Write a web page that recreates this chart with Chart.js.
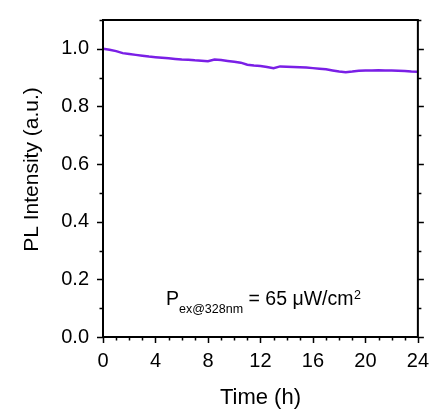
<!DOCTYPE html>
<html><head><meta charset="utf-8">
<script src="https://cdn.jsdelivr.net/npm/chart.js@4"></script>
<style>html,body{margin:0;padding:0;background:#fff}#wrap{width:435px;height:413px}</style>
</head><body><div id="wrap"><canvas id="c" width="435" height="413"></canvas></div>
<script>
const timeH = [0,0.5,1,1.5,2,2.5,3,3.5,4,4.5,5,5.5,6,6.5,7,7.5,8,8.5,9,9.5,10,10.5,11,11.5,12,12.5,13,13.5,14,14.5,15,15.5,16,16.5,17,17.5,18,18.5,19,19.5,20,20.5,21,21.5,22,22.5,23,23.5,24];
const plIntensity = [1.000,0.997,0.992,0.985,0.982,0.979,0.976,0.973,0.971,0.969,0.967,0.965,0.963,0.962,0.960,0.959,0.957,0.963,0.961,0.958,0.955,0.952,0.945,0.942,0.940,0.937,0.933,0.939,0.938,0.937,0.936,0.935,0.933,0.931,0.929,0.925,0.921,0.919,0.921,0.924,0.925,0.925,0.926,0.925,0.925,0.924,0.923,0.921,0.920];
const xTicks = [0,4,8,12,16,20,24];
const yTicks = [0,0.2,0.4,0.6,0.8,1.0];
const xMinorStep = 1;
const yMinorStep = 0.1;
const xTitle = 'Time (h)';
const yTitle = 'PL Intensity (a.u.)';
const note = {main:'P', sub:'ex@328nm', rest:' = 65 \u03bcW/cm', sup:'2', x:4.8, y:0.111};

const FONT = "'Liberation Sans', Arial, sans-serif";
const MAJ = 6, MIN = 3.5;

const framePlugin = {
  id:'frame',
  afterDraw(chart){
    const {ctx, chartArea:a, scales:{x,y}} = chart;
    ctx.save();
    ctx.strokeStyle = '#000';
    ctx.lineWidth = 1.5;
    ctx.beginPath();
    for (let v = x.min; v <= x.max + 1e-9; v += xMinorStep) {
      const px = Math.round(x.getPixelForValue(v)) + 0.5;
      const isMaj = xTicks.some(t => Math.abs(t - v) < 1e-9);
      const len = isMaj ? MAJ : MIN;
      ctx.moveTo(px, a.bottom); ctx.lineTo(px, a.bottom + len);
    }
    for (let v = 0; v <= 1.1 + 1e-9; v += yMinorStep) {
      const py = Math.round(y.getPixelForValue(v)) + 0.5;
      const isMaj = yTicks.some(t => Math.abs(t - v) < 1e-9);
      const len = isMaj ? MAJ : MIN;
      ctx.moveTo(a.left, py); ctx.lineTo(a.left - len, py);
      ctx.moveTo(a.right, py); ctx.lineTo(a.right + len, py);
    }
    ctx.stroke();
    ctx.lineWidth = 2;
    ctx.strokeRect(a.left, a.top, a.right - a.left, a.bottom - a.top);
    // y title
    ctx.fillStyle = '#000';
    ctx.save();
    ctx.translate(32, (a.top + a.bottom) / 2 - 9);
    ctx.rotate(-Math.PI / 2);
    ctx.textAlign = 'center';
    ctx.textBaseline = 'middle';
    ctx.font = '21px ' + FONT;
    ctx.fillText(yTitle, 0, 0);
    ctx.restore();
    // annotation
    let px = x.getPixelForValue(note.x), py = y.getPixelForValue(note.y);
    ctx.textAlign = 'left';
    ctx.textBaseline = 'alphabetic';
    ctx.font = '19.5px ' + FONT;
    ctx.fillText(note.main, px, py);
    px += ctx.measureText(note.main).width;
    ctx.font = '12.5px ' + FONT;
    ctx.fillText(note.sub, px, py + 8);
    px += ctx.measureText(note.sub).width;
    ctx.font = '19.5px ' + FONT;
    ctx.fillText(note.rest, px, py);
    px += ctx.measureText(note.rest).width;
    ctx.font = '12.5px ' + FONT;
    ctx.fillText(note.sup, px + 0.5, py - 6);
    ctx.restore();
  }
};

new Chart(document.getElementById('c'), {
  type:'line',
  data:{ datasets:[{
    data: timeH.map((t,i)=>({x:t, y:plIntensity[i]})),
    borderColor:'#7a1fe6', borderWidth:2.5, pointRadius:0, tension:0, fill:false
  }]},
  options:{
    responsive:false, animation:false, devicePixelRatio:1,
    layout:{padding:{top:20,right:14,left:0,bottom:0}},
    plugins:{legend:{display:false}, tooltip:{enabled:false}},
    scales:{
      x:{
        type:'linear', min:0, max:24,
        afterBuildTicks(s){ s.ticks = xTicks.map(v=>({value:v})); },
        afterFit(s){ s.height = 76; },
        grid:{display:true, drawOnChartArea:false, color:'rgba(0,0,0,0)', tickLength:MAJ},
        border:{display:false},
        ticks:{color:'#000', padding:6, maxRotation:0, autoSkip:false, font:{family:FONT, size:20}},
        title:{display:true, text:xTitle, color:'#000', font:{family:FONT, size:22}, padding:{top:0,bottom:2}}
      },
      y:{
        type:'linear', min:0, max:1.1,
        afterBuildTicks(s){ s.ticks = yTicks.map(v=>({value:v})); },
        afterFit(s){ s.width = 103; },
        grid:{display:true, drawOnChartArea:false, color:'rgba(0,0,0,0)', tickLength:MAJ},
        border:{display:false},
        ticks:{color:'#000', padding:8, font:{family:FONT, size:20}, callback:v=>Number(v).toFixed(1)},
        title:{display:false}
      }
    }
  },
  plugins:[framePlugin]
});
</script></body></html>
